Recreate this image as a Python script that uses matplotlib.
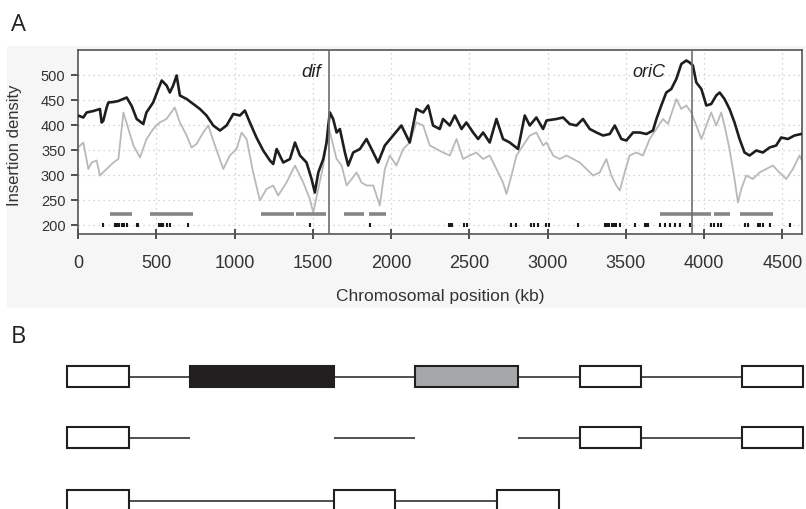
import matplotlib
matplotlib.use("Agg")
import matplotlib.pyplot as plt
from matplotlib.patches import Rectangle
import numpy as np

# ---------------- data (panel A) ----------------
black_kb = [0, 34, 55, 98, 140, 151, 161, 183, 194, 226, 258, 311, 343, 375, 417, 437, 480, 513, 535, 566, 587,
            608, 630, 651, 694, 736, 779, 821, 864, 907, 949, 992, 1034, 1066, 1098, 1140, 1183, 1226, 1247,
            1269, 1311, 1354, 1386, 1418, 1460, 1492, 1513, 1535, 1567, 1588, 1599, 1609, 1630, 1652, 1673,
            1705, 1726, 1758, 1801, 1843, 1875, 1917, 1960, 2013, 2066, 2119, 2162, 2205, 2237, 2268, 2311,
            2332, 2375, 2407, 2450, 2481, 2524, 2556, 2588, 2630, 2673, 2715, 2758, 2811, 2854, 2886, 2928,
            2971, 2993, 3056, 3099, 3141, 3184, 3226, 3269, 3312, 3354, 3397, 3429, 3471, 3503, 3546, 3588,
            3631, 3673, 3695, 3726, 3758, 3790, 3822, 3854, 3886, 3907, 3928, 3950, 3982, 4014, 4045, 4077,
            4099, 4130, 4162, 4194, 4226, 4258, 4290, 4333, 4375, 4418, 4460, 4492, 4535, 4577, 4620, 4641]
black_val = [419, 415, 425, 428, 432, 405, 408, 435, 445, 446, 448, 455, 438, 412, 402, 425, 445, 472, 489, 479, 465,
             479, 499, 459, 452, 442, 432, 419, 399, 389, 399, 422, 419, 429, 405, 375, 349, 329, 322,
             352, 325, 332, 365, 339, 325, 292, 265, 305, 332, 365, 399, 425, 412, 385, 392,
             345, 319, 345, 352, 372, 352, 325, 359, 379, 399, 365, 432, 425, 439, 399, 392,
             412, 399, 419, 392, 405, 385, 372, 385, 365, 412, 372, 365, 352, 419, 399, 415,
             392, 409, 412, 415, 402, 399, 412, 392, 385, 379, 382, 399, 372, 369, 385, 385,
             382, 389, 412, 439, 465, 472, 492, 522, 529, 525, 519, 485, 472, 439, 442, 459,
             465, 452, 432, 405, 372, 345, 339, 349, 345, 355, 359, 375, 372, 379, 382, 382]

gray_kb = [0, 34, 66, 87, 119, 140, 183, 226, 258, 290, 322, 354, 396, 438, 480, 522, 565, 618, 651, 694, 725,
           757, 800, 832, 875, 928, 970, 1013, 1045, 1077, 1119, 1162, 1204, 1247, 1279,
           1332, 1386, 1439, 1481, 1503, 1535, 1567, 1599, 1620, 1652, 1684, 1716, 1748, 1780, 1811,
           1843, 1886, 1928, 1960, 1992, 2034, 2077, 2119, 2162, 2205, 2247, 2290, 2332, 2375, 2418,
           2460, 2503, 2545, 2588, 2630, 2673, 2715, 2737, 2769, 2801, 2843, 2886, 2928, 2971, 2993,
           3035, 3077, 3120, 3163, 3205, 3248, 3290, 3333, 3375, 3407, 3439, 3461, 3492, 3524, 3567,
           3609, 3652, 3695, 3737, 3769, 3801, 3822, 3854, 3886, 3918, 3950, 3982, 4014, 4045, 4077,
           4109, 4130, 4162, 4194, 4216, 4237, 4269, 4311, 4354, 4396, 4439, 4481, 4524, 4567, 4609, 4641]
gray_val = [355, 365, 312, 325, 329, 299, 312, 325, 332, 425, 392, 359, 335, 372, 392, 405, 412, 435, 405, 379, 355,
            362, 385, 399, 359, 312, 339, 352, 385, 372, 305, 249, 272, 279, 259,
            285, 319, 285, 252, 225, 272, 319, 399, 372, 332, 319, 279, 292, 305, 285,
            279, 279, 239, 312, 339, 319, 352, 365, 405, 399, 359, 352, 345, 339, 372,
            332, 339, 345, 332, 339, 312, 285, 262, 299, 339, 359, 379, 385, 359, 365,
            339, 332, 339, 332, 325, 312, 299, 305, 332, 299, 279, 269, 305, 339, 345,
            339, 372, 392, 412, 402, 432, 452, 432, 439, 425, 399, 372, 399, 425, 399,
            425, 399, 352, 292, 245, 272, 299, 292, 305, 312, 319, 305, 292, 312, 339, 319]

gene_ticks = [158, 236, 250, 264, 280, 297, 314, 375, 385, 520, 530, 545, 566, 587, 700,
              1481, 1865, 2371, 2382, 2392, 2467, 2488, 2766, 2797, 2894, 2915, 2937, 2988, 3009,
              3195, 3365, 3380, 3395, 3410, 3425, 3440, 3461, 3556, 3620, 3630, 3641,
              3716, 3748, 3780, 3811, 3843, 3907, 4045, 4060, 4088, 4109, 4258, 4279,
              4343, 4359, 4375, 4418, 4546]
region_starts = [204, 460, 1170, 1395, 1698, 1860, 3720, 4066, 4226]
region_ends = [343, 736, 1380, 1585, 1827, 1967, 4045, 4162, 4439]

dif_pos = 1605
oric_pos = 3920
x_ticks = [0, 500, 1000, 1500, 2000, 2500, 3000, 3500, 4000, 4500]
y_ticks = [200, 250, 300, 350, 400, 450, 500]

# ---------------- data (panel B, schematic, in drawing units) ----------------
row1_boxes = [(67, 129, "white"), (190, 334, "#231f20"), (415, 518, "#a5a8aa"), (580, 641, "white"), (742, 803, "white")]
row1_links = [(129, 190), (334, 415), (518, 580), (641, 742)]
row2_boxes = [(67, 129, "white"), (580, 641, "white"), (742, 803, "white")]
row2_links = [(129, 190), (334, 415), (518, 580), (641, 742)]
row3_boxes = [(67, 129, "white"), (334, 395, "white"), (497, 559, "white")]
row3_links = [(129, 334), (395, 497)]
row_tops = [367, 428, 491]

# ---------------- figure ----------------
W, H = 806, 510
fig = plt.figure(figsize=(W / 100, H / 100), dpi=100)
fig.patch.set_facecolor("white")

# light grey background of panel A
bg = fig.add_axes([7 / W, 1 - 309 / H, 1 - 7 / W, (309 - 47) / H], zorder=-10)
bg.set_facecolor("#f6f6f6")
bg.set_xticks([])
bg.set_yticks([])
for s in bg.spines.values():
    s.set_visible(False)

ax = fig.add_axes([78 / W, 1 - 235 / H, (802 - 78) / W, (235 - 51) / H], zorder=1)
ax.set_facecolor("white")
ax.set_xlim(0, 4625)
ax.set_ylim(182, 550)

for xt in x_ticks[1:]:
    ax.axvline(xt, color="#c8c8c8", lw=0.9, ls=(0, (1, 3)), zorder=1)
for yt in y_ticks:
    ax.axhline(yt, color="#c8c8c8", lw=0.9, ls=(0, (1, 3)), zorder=1)

ax.plot(gray_kb, gray_val, color="#b9b9b9", lw=1.3, zorder=2)
ax.plot(black_kb, black_val, color="#1e1e1e", lw=1.9, zorder=3)

ax.hlines([222] * len(region_starts), region_starts, region_ends, color="#858585", lw=2.6,
          zorder=3)
ax.vlines(gene_ticks, 196, 205, color="#1a1a1a", lw=1.5, zorder=3)

ax.axvline(dif_pos, color="#6e6e6e", lw=1.2, zorder=4)
ax.axvline(oric_pos, color="#6e6e6e", lw=1.2, zorder=4)
ax.text(dif_pos - 55, 507, "dif", style="italic", ha="right", va="center", fontsize=13.5,
        family="Liberation Sans", color="#222222")
ax.text(oric_pos - 170, 507, "oriC", style="italic", ha="right", va="center", fontsize=13,
        family="Liberation Sans", color="#222222")

ax.set_xticks(x_ticks)
ax.set_yticks(y_ticks)
ax.tick_params(axis="x", direction="inout", length=7, width=1.2, color="#333333", pad=11,
               labelsize=13, labelcolor="#333333")
ax.tick_params(axis="y", direction="out", length=5, width=1.2, color="#333333", pad=4,
               labelsize=10.5, labelcolor="#333333")
for lab in ax.get_xticklabels() + ax.get_yticklabels():
    lab.set_family("Liberation Sans")
for s in ax.spines.values():
    s.set_color("#555555")
    s.set_linewidth(1.2)

ax.set_xlabel("Chromosomal position (kb)", fontsize=12.5, family="Liberation Sans", color="#333333")
ax.set_ylabel("Insertion density", fontsize=12, family="Liberation Sans", color="#333333")
ax.xaxis.set_label_coords(0.5, (235 - 297) / 184)
ax.yaxis.set_label_coords((15 - 78) / 724, 0.49)
ax.xaxis.label.set_va("center")
ax.yaxis.label.set_va("center")

fig.text(11 / W, 1 - 25 / H, "A", fontsize=17, family="Open Sans", va="center", ha="left", color="#222222")
fig.text(11 / W, 1 - 337 / H, "B", fontsize=17, family="Open Sans", va="center", ha="left", color="#222222")

# ---------------- panel B ----------------
bx = fig.add_axes([0, 0, 1, 190 / H])
bx.set_xlim(0, W)
bx.set_ylim(510, 320)
bx.axis("off")
box_h = 21
rows = [(row1_boxes, row1_links), (row2_boxes, row2_links), (row3_boxes, row3_links)]
for top, (boxes, links) in zip(row_tops, rows):
    mid = top + box_h / 2
    for a, b in links:
        bx.plot([a, b], [mid, mid], color="#231f20", lw=1.1, solid_capstyle="butt", zorder=1)
    for a, b, c in boxes:
        bx.add_patch(Rectangle((a, top), b - a, box_h, facecolor=c, edgecolor="#231f20",
                               lw=1.5, zorder=2))

fig.savefig("out.png", dpi=100, facecolor="white")
